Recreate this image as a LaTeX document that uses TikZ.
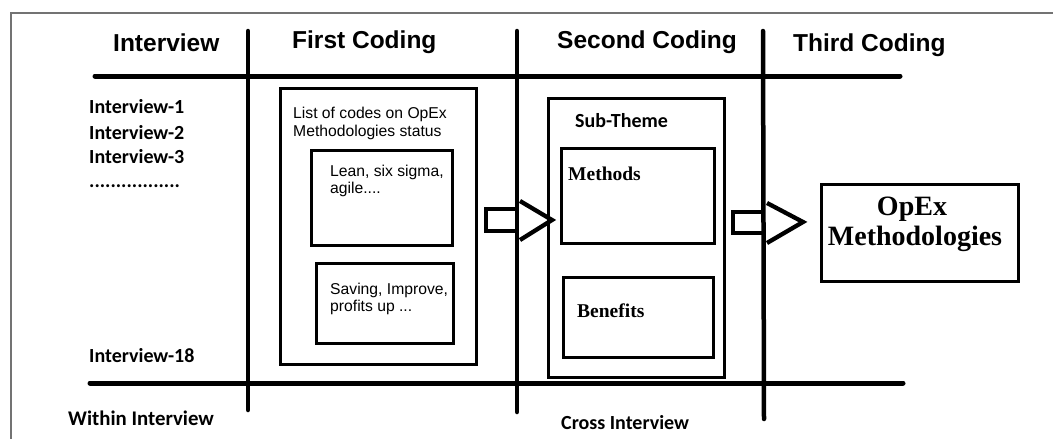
\documentclass[tikz,border=0pt]{standalone}
\usepackage{fontspec}
\newfontfamily\arialfont{Liberation Sans}
\newfontfamily\calfont{Carlito}
\newfontfamily\timesfont{Liberation Serif}
\begin{document}
\begin{tikzpicture}[x=1pt,y=-1pt,
  grid/.style={line width=5pt,line cap=round},
  col/.style={line width=4.5pt,line cap=round},
  frame/.style={draw=black!55,line width=1.3pt},
  box/.style={draw,line width=3pt,anchor=north west,inner sep=0pt},
  thinbox/.style={draw,line width=2.5pt,anchor=north west,inner sep=0pt},
  head/.style={font=\arialfont\bfseries\fontsize{24.5}{28}\selectfont,anchor=base west,inner sep=0pt},
  lbl/.style={font=\calfont\bfseries\fontsize{20}{22}\selectfont,anchor=base west,inner sep=0pt},
  small/.style={font=\arialfont\fontsize{15.7}{18}\selectfont,anchor=base west,inner sep=0pt},
  theme/.style={font=\timesfont\bfseries\fontsize{19.5}{22}\selectfont,anchor=base west,inner sep=0pt},
  blockarrow/.style={line width=4.3pt,line join=miter}]
\useasboundingbox (0,0) rectangle (1053,439);
\fill[white] (0,0) rectangle (1053,439);

% page frame
\draw[frame] (11,439) -- (11,13) -- (1053,13);

% grid of the coding stages
\coordinate (hTopL) at (95,76);   \coordinate (hTopR) at (900,76);
\coordinate (hBotL) at (90,383);  \coordinate (hBotR) at (903,383);
\coordinate (v1T) at (248,31);    \coordinate (v1B) at (248,410);
\coordinate (v2T) at (517,31);    \coordinate (v2B) at (517,412);
\coordinate (v3T) at (763,31);    \coordinate (v3B) at (764,419);
\draw[grid] (hTopL) -- (hTopR);
\draw[grid] (hBotL) -- (hBotR);
\draw[col] (v1T) -- (v1B);
\draw[col] (v2T) -- (v2B);
\draw[col] (v3T) -- (v3B);

% column headings
\node[head] (hInt) at (113,51) {Interview};
\node[head] (hFirst) at (292,48) {First Coding};
\node[head] (hSecond) at (557,48) {Second Coding};
\node[head] (hThird) at (793,51) {Third Coding};

% interviews
\node[lbl] (i1) at (89,113) {Interview-1};
\node[lbl] (i2) at (89,139) {Interview-2};
\node[lbl] (i3) at (89,163) {Interview-3};
\node[lbl] (idots) at (89,187) {.................};
\node[lbl] (i18) at (89,362) {Interview-18};
\node[lbl,font=\calfont\bfseries\fontsize{20.8}{22}\selectfont] (within) at (68,425) {Within Interview};
\node[lbl] (cross) at (561,429) {Cross Interview};

% first coding
\node[box,minimum width=196pt,minimum height=276pt] (codes) at (279,87) {};
\node[small] (codesA) at (293,118) {List of codes on OpEx};
\node[small] (codesB) at (293,136) {Methodologies status};
\node[box,minimum width=141pt,minimum height=95pt] (lean) at (310,149) {};
\node[small] (leanA) at (330,176) {Lean, six sigma,};
\node[small] (leanB) at (330,193) {agile....};
\node[box,minimum width=137pt,minimum height=80pt] (save) at (315,262) {};
\node[small] (saveA) at (330,294) {Saving, Improve,};
\node[small] (saveB) at (330,311) {profits up ...};

% second coding
\node[thinbox,minimum width=176pt,minimum height=279pt] (sub) at (547,97) {};
\node[lbl] (subT) at (575,127) {Sub-Theme};
\node[box,minimum width=153pt,minimum height=95pt] (meth) at (560,147) {};
\node[theme] (methT) at (568,180) {Methods};
\node[box,minimum width=150pt,minimum height=80pt] (ben) at (562,276) {};
\node[theme] (benT) at (577,317) {Benefits};

% third coding
\node[box,minimum width=197pt,minimum height=97pt] (opex) at (820,183) {};
\node[font=\timesfont\bfseries\fontsize{28}{30}\selectfont,anchor=base,inner sep=0pt] (opexA) at (912,215) {OpEx};
\node[font=\timesfont\bfseries\fontsize{28}{30}\selectfont,anchor=base,inner sep=0pt] (opexB) at (915,245) {Methodologies};

% block arrows between the stages
\coordinate (a1) at (486,209); \coordinate (a1b) at (486,231);
\coordinate (a1h) at (520,201); \coordinate (a1t) at (552,220); \coordinate (a1l) at (520,240);
\draw[blockarrow] (v2T |- a1) -- (a1) -- (a1b) -- (v2T |- a1b);
\draw[blockarrow] (a1h) -- (a1t) -- (a1l);
\coordinate (a2) at (733,212); \coordinate (a2b) at (733,233);
\coordinate (a2h) at (767,203); \coordinate (a2t) at (803,222); \coordinate (a2l) at (767,243);
\draw[blockarrow] (v3T |- a2) -- (a2) -- (a2b) -- (v3T |- a2b);
\draw[blockarrow] (a2h) -- (a2t) -- (a2l);
\end{tikzpicture}
\end{document}
